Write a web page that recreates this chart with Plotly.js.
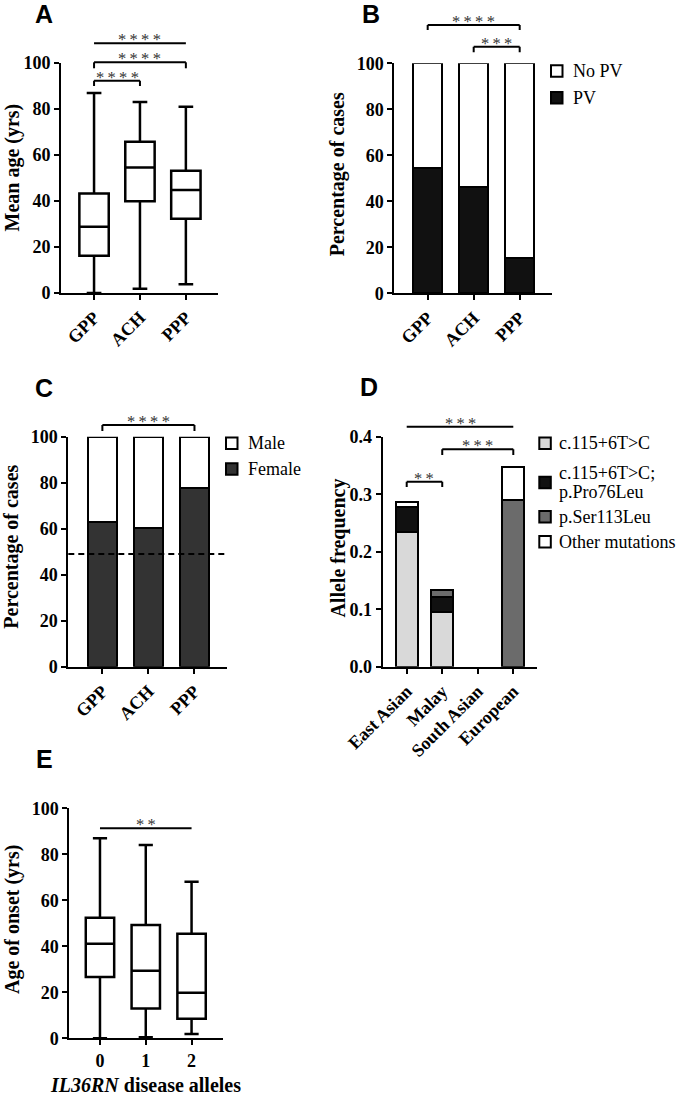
<!DOCTYPE html>
<html><head><meta charset="utf-8">
<script src="https://cdn.plot.ly/plotly-3.0.1.min.js"></script>
<style>html,body{margin:0;padding:0;background:#fff;}#chart{width:676px;height:1096px;}</style>
</head><body><div id="chart"></div>
<script>
// ---------------- DATA ----------------
const groups = ['GPP', 'ACH', 'PPP'];
// A: age (yrs) box statistics
const ageUpper  = [87, 83, 81];
const ageQ3     = [43.3, 65.8, 53.2];
const ageMedian = [28.8, 54.6, 44.8];
const ageQ1     = [16.2, 39.9, 32.3];
const ageLower  = [0, 1.9, 3.8];
// B: PV
const pvPct   = [54.3, 46.1, 15.5];
const noPvPct = [45.7, 53.9, 84.5];
// C: sex
const femalePct = [63.0, 60.2, 77.6];
const malePct   = [37.0, 39.8, 22.4];
const femaleRefLine = 49;
// D: allele frequency
const populations = ['East Asian', 'Malay', 'South Asian', 'European'];
const freqC115      = [0.235, 0.095, 0, 0];
const freqC115Pro76 = [0.042, 0.027, 0, 0];
const freqSer113    = [0, 0.011, 0, 0.29];
const freqOther     = [0.010, 0, 0, 0.057];
// E: age of onset by number of IL36RN disease alleles
const alleles     = ['0', '1', '2'];
const onsetUpper  = [87, 84, 68.1];
const onsetQ3     = [52.4, 49.3, 45.5];
const onsetMedian = [41.1, 29.4, 19.8];
const onsetQ1     = [26.7, 13.0, 8.5];
const onsetLower  = [0, 0.5, 1.9];

// ---------------- LAYOUT HELPERS ----------------
const W = 676, H = 1096;
const SERIF = 'Liberation Serif, Times New Roman, serif';
const SANS = 'Liberation Sans, Arial, sans-serif';
const panels = {
  A: {xa:'x',  ya:'y',  xd:[61,218],    yd:[63,293],    xr:[-0.72,2.7],   yr:[0,100], dtick:20, angle:-45},
  B: {xa:'x2', ya:'y2', xd:[394.3,551.7],yd:[63.3,293.3],xr:[-0.726,2.696],yr:[0,100], dtick:20, angle:-45},
  C: {xa:'x3', ya:'y3', xd:[68.3,226.7], yd:[436.7,666.7],xr:[-0.74,2.7],  yr:[0,100], dtick:20, angle:-45},
  D: {xa:'x4', ya:'y4', xd:[382.7,537.3],yd:[436.7,666.7],xr:[-0.676,3.676],yr:[0,0.4], dtick:0.1, angle:-45, fmt:'.1f'},
  E: {xa:'x5', ya:'y5', xd:[69.3,222.7], yd:[808.3,1038.3],xr:[-0.67,2.68],yr:[0,100], dtick:20, angle:0}
};
function yPaper(P, v) {
  const p = panels[P];
  const pix = p.yd[1] - (v - p.yr[0]) / (p.yr[1] - p.yr[0]) * (p.yd[1] - p.yd[0]);
  return 1 - pix / H;
}
const fx = x => x / W, fy = y => 1 - y / H;

// ---------------- TRACES ----------------
const boxStyle = {type:'box', boxpoints:false, fillcolor:'#ffffff', line:{color:'#000', width:2.5},
                  whiskerwidth:0.5, width:0.64, showlegend:false, hoverinfo:'skip'};
const barLine = {color:'#000', width:2};
// zero-height segments get no outline
const segLine = arr => ({color:'#000', width:arr.map(v => v > 0 ? 2 : 0)});
const traces = [
  Object.assign({}, boxStyle, {x:groups, q1:ageQ1, median:ageMedian, q3:ageQ3,
    lowerfence:ageLower, upperfence:ageUpper, xaxis:'x', yaxis:'y'}),
  {type:'bar', x:groups, y:pvPct, name:'PV', width:0.64, marker:{color:'#111111', line:barLine}, xaxis:'x2', yaxis:'y2', showlegend:false},
  {type:'bar', x:groups, y:noPvPct, name:'No PV', width:0.64, marker:{color:'#ffffff', line:barLine}, xaxis:'x2', yaxis:'y2', showlegend:false},
  {type:'bar', x:groups, y:femalePct, name:'Female', width:0.64, marker:{color:'#333333', line:barLine}, xaxis:'x3', yaxis:'y3', showlegend:false},
  {type:'bar', x:groups, y:malePct, name:'Male', width:0.64, marker:{color:'#ffffff', line:barLine}, xaxis:'x3', yaxis:'y3', showlegend:false},
  {type:'bar', x:populations, y:freqC115, name:'c.115+6T>C', width:0.62, marker:{color:'#d9d9d9', line:segLine(freqC115)}, xaxis:'x4', yaxis:'y4', showlegend:false},
  {type:'bar', x:populations, y:freqC115Pro76, name:'c.115+6T>C; p.Pro76Leu', width:0.62, marker:{color:'#111111', line:segLine(freqC115Pro76)}, xaxis:'x4', yaxis:'y4', showlegend:false},
  {type:'bar', x:populations, y:freqSer113, name:'p.Ser113Leu', width:0.62, marker:{color:'#6b6b6b', line:segLine(freqSer113)}, xaxis:'x4', yaxis:'y4', showlegend:false},
  {type:'bar', x:populations, y:freqOther, name:'Other mutations', width:0.62, marker:{color:'#ffffff', line:segLine(freqOther)}, xaxis:'x4', yaxis:'y4', showlegend:false},
  Object.assign({}, boxStyle, {x:alleles, q1:onsetQ1, median:onsetMedian, q3:onsetQ3,
    lowerfence:onsetLower, upperfence:onsetUpper, width:0.62, xaxis:'x5', yaxis:'y5'})
];

// ---------------- AXES ----------------
const layout = {
  width:W, height:H, margin:{l:0,r:0,t:0,b:0}, paper_bgcolor:'#fff', plot_bgcolor:'rgba(0,0,0,0)',
  barmode:'stack', showlegend:false, font:{family:SERIF, color:'#000'},
  shapes:[], annotations:[]
};
const tickFont = {family:SERIF, size:18, weight:'bold', color:'#000'};
Object.keys(panels).forEach(P => {
  const p = panels[P];
  const xk = p.xa === 'x' ? 'xaxis' : 'xaxis' + p.xa.slice(1);
  const yk = p.ya === 'y' ? 'yaxis' : 'yaxis' + p.ya.slice(1);
  layout[xk] = {domain:[fx(p.xd[0]), fx(p.xd[1])], anchor:p.ya, type:'category', range:p.xr,
    showline:true, linecolor:'#000', linewidth:2, ticks:'outside', ticklen:5, tickwidth:2, tickcolor:'#000',
    tickangle:p.angle, tickfont:tickFont, showgrid:false, zeroline:false, fixedrange:true, automargin:false};
  layout[yk] = {domain:[fy(p.yd[1]), fy(p.yd[0])], anchor:p.xa, range:p.yr, dtick:p.dtick, tick0:0,
    tickformat:p.fmt || '', showline:true, linecolor:'#000', linewidth:2, ticks:'outside', ticklen:5,
    tickwidth:2, tickcolor:'#000', tickfont:tickFont, showgrid:false, zeroline:false, fixedrange:true, automargin:false};
});

// ---------------- ANNOTATIONS / SHAPES ----------------
const A = layout.annotations, S = layout.shapes;
// panel letters
[['A',44,14],['B',371,14],['C',44,388],['D',369,387],['E',44,759]].forEach(([t,x,y]) =>
  A.push({text:t, xref:'paper', yref:'paper', x:fx(x), y:fy(y), xanchor:'center', yanchor:'middle',
          showarrow:false, font:{family:SANS, size:25, weight:'bold', color:'#000'}}));
// y-axis titles
[['Mean age (yrs)',12,167.5],['Percentage of cases',338.3,174],['Percentage of cases',12,546.7],
 ['Allele frequency',338.3,548.3],['Age of onset (yrs)',12,920]].forEach(([t,x,y]) =>
  A.push({text:t, xref:'paper', yref:'paper', x:fx(x), y:fy(y), xanchor:'center', yanchor:'middle',
          textangle:-90, showarrow:false, font:{family:SERIF, size:20, weight:'bold', color:'#000'}}));
// E x-axis title
A.push({text:'<i>IL36RN</i> disease alleles', xref:'paper', yref:'paper', x:fx(145), y:fy(1085),
        xanchor:'center', yanchor:'middle', showarrow:false, font:{family:SERIF, size:20, weight:'bold', color:'#000'}});

// significance brackets: [panel, from, to, level, tickDrop, stars]
const sig = [
  ['A',0,2,108.6,0,4], ['A',0,2,100.3,2.6,4], ['A',0,1,92.3,2.3,4],
  ['B',0,2,116.7,2.2,4], ['B',1,2,107.2,2.4,3],
  ['C',0,2,105.1,2.6,4],
  ['D',0,3,0.4174,0,3], ['D',1,3,0.378,0.01,3], ['D',0,1,0.3217,0.009,2],
  ['E',0,2,91.3,0,2]
];
sig.forEach(([P,a,b,lev,drop,n]) => {
  const p = panels[P];
  const yl = yPaper(P, lev), yt = yPaper(P, lev - drop);
  const base = {type:'line', xref:p.xa, yref:'paper', line:{color:'#000', width:2}};
  S.push(Object.assign({}, base, {x0:a, x1:b, y0:yl, y1:yl}));
  if (drop > 0) {
    S.push(Object.assign({}, base, {x0:a, x1:a, y0:yl, y1:yt}));
    S.push(Object.assign({}, base, {x0:b, x1:b, y0:yl, y1:yt}));
  }
  A.push({text:Array(n).fill('*').join('\u2009'), xref:p.xa, yref:'paper', x:(a+b)/2, y:yl,
          xanchor:'center', yanchor:'bottom', yshift:-7, borderpad:0, showarrow:false,
          font:{family:SERIF, size:16.5, color:'#333'}});
});

// dashed reference line (panel C)
S.push({type:'line', xref:'x3 domain', yref:'y3', x0:0, x1:1, y0:femaleRefLine, y1:femaleRefLine,
        line:{color:'#000', width:2, dash:'6px,4px'}, layer:'above'});

// legends: [squareLeft, textLeft, rows:[ [centerY, fill, [lines...]] ] ]
const legends = [
  [551, 572, [[71, '#ffffff', ['No PV']], [97.7, '#111111', ['PV']]]],
  [226, 247.3, [[443.3, '#ffffff', ['Male']], [469, '#333333', ['Female']]]],
  [539.3, 558.3, [[443.3, '#d9d9d9', ['c.115+6T>C']], [482.5, '#111111', ['c.115+6T>C;', 'p.Pro76Leu']],
                  [516.7, '#6b6b6b', ['p.Ser113Leu']], [541.7, '#ffffff', ['Other mutations']]]]
];
const SQ = 11.5;
legends.forEach(([sx, tx, rows]) => rows.forEach(([cy, fill, lines]) => {
  S.push({type:'rect', xref:'paper', yref:'paper', x0:fx(sx), x1:fx(sx+SQ), y0:fy(cy+SQ/2), y1:fy(cy-SQ/2),
          fillcolor:fill, line:{color:'#000', width:2}});
  const lh = 18.4;
  lines.forEach((ln, i) => {
    const ly = cy + (i - (lines.length - 1) / 2) * lh;
    A.push({text:ln, xref:'paper', yref:'paper', x:fx(tx), y:fy(ly), xanchor:'left', yanchor:'middle',
            borderpad:0, showarrow:false, font:{family:SERIF, size:18, color:'#000'}});
  });
}));

Plotly.newPlot('chart', traces, layout, {staticPlot:true, displayModeBar:false});
</script>
</body></html>
